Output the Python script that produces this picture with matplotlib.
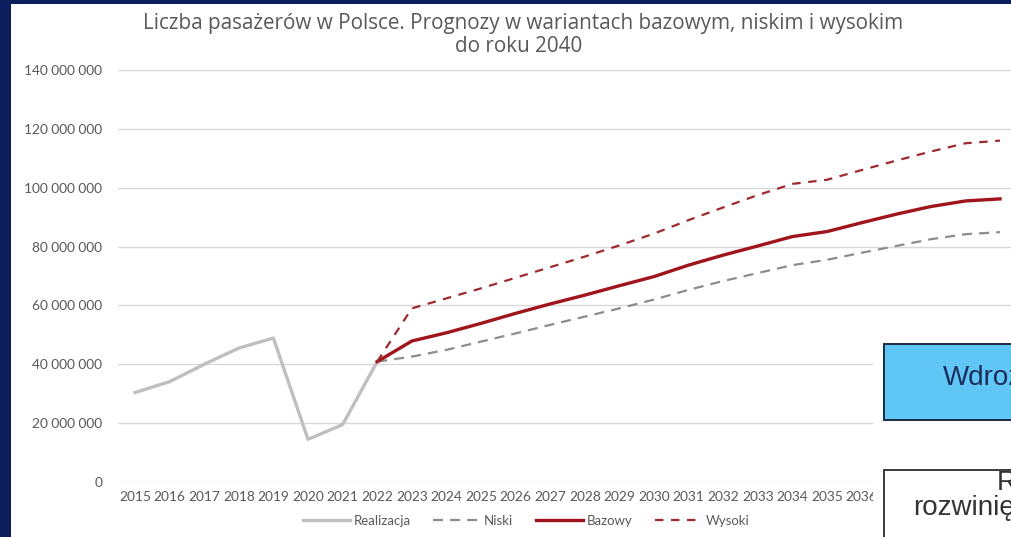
import matplotlib
matplotlib.use("Agg")
import matplotlib.pyplot as plt
from matplotlib.patches import Rectangle
from matplotlib.lines import Line2D
from matplotlib.ticker import FuncFormatter, FixedLocator

years = list(range(2015, 2041))

realizacja = [30_400_000, 34_100_000, 40_000_000, 45_500_000, 48_900_000,
              14_500_000, 19_500_000, 40_900_000]

niski = [40_900_000, 42_600_000, 44_900_000, 47_700_000, 50_500_000, 53_400_000,
         56_200_000, 59_000_000, 62_000_000, 65_300_000, 68_300_000, 71_000_000,
         73_700_000, 75_500_000, 77_900_000, 80_200_000, 82_500_000, 84_200_000,
         84_900_000]

bazowy = [40_900_000, 47_900_000, 50_700_000, 53_900_000, 57_300_000, 60_500_000,
          63_500_000, 66_700_000, 69_800_000, 73_700_000, 77_100_000, 80_200_000,
          83_400_000, 85_100_000, 88_100_000, 91_000_000, 93_600_000, 95_500_000,
          96_200_000]

wysoki = [40_900_000, 59_000_000, 62_400_000, 65_800_000, 69_400_000, 73_000_000,
          76_600_000, 80_400_000, 84_400_000, 89_000_000, 93_300_000, 97_500_000,
          101_300_000, 102_700_000, 106_000_000, 109_200_000, 112_300_000,
          115_100_000, 116_000_000]

y_ticks = [0, 20_000_000, 40_000_000, 60_000_000, 80_000_000, 100_000_000,
           120_000_000, 140_000_000]

title_lines = ["Liczba pasażerów w Polsce. Prognozy w wariantach bazowym, niskim i wysokim",
               "do roku 2040"]

W, H = 1011, 537
TXT = "#595959"
plt.rcParams["font.family"] = ["Lato", "DejaVu Sans"]

fig = plt.figure(figsize=(W / 100, H / 100), dpi=100, facecolor="white")

def fx(px):
    return px / W

def fy(py):
    return 1 - py / H

step = 34.6
ax_left = 117.7
ax = fig.add_axes([fx(ax_left), fy(482), fx(26 * step), (482 - 70) / H])
ax.set_facecolor("none")

x_real = list(range(len(realizacja)))
x_fc = list(range(len(realizacja) - 1, len(years)))

ax.plot(x_real, realizacja, color="#bfbfbf", lw=2.4, solid_joinstyle="round",
        label="Realizacja", zorder=3)
ax.plot(x_fc, niski, color="#8c8c8c", lw=1.6, dashes=(4.5, 3.2),
        label="Niski", zorder=3)
ax.plot(x_fc, bazowy, color="#a0141c", lw=2.4, label="Bazowy", zorder=4)
ax.plot(x_fc, wysoki, color="#9e2a2f", lw=1.6, dashes=(3.8, 3.4),
        label="Wysoki", zorder=4)

ax.set_xlim(-0.5, len(years) - 0.5)
ax.set_ylim(0, 140_000_000)
ax.xaxis.set_major_locator(FixedLocator(range(len(years))))
ax.set_xticklabels([str(y) for y in years])
ax.yaxis.set_major_locator(FixedLocator(y_ticks))
ax.yaxis.set_major_formatter(FuncFormatter(lambda v, p: f"{int(v):,}".replace(",", " ")))
ax.tick_params(axis="x", length=0, pad=6.5, labelsize=9.9, labelcolor=TXT)
ax.tick_params(axis="y", length=0, pad=11, labelsize=9.9, labelcolor=TXT)
ax.grid(axis="y", color="#d9d9d9", lw=1.0)
ax.set_axisbelow(True)
for s in ax.spines.values():
    s.set_visible(False)

# year labels that fall under the boxes on the right stay hidden
for lbl in ax.get_xticklabels()[22:]:
    lbl.set_visible(False)

handles = [
    Line2D([], [], color="#bfbfbf", lw=2.4),
    Line2D([], [], color="#8c8c8c", lw=1.6, dashes=(4.5, 3.2)),
    Line2D([], [], color="#a0141c", lw=2.4),
    Line2D([], [], color="#9e2a2f", lw=1.6, dashes=(3.8, 3.4)),
]
fig.legend(handles, ["Realizacja", "Niski", "Bazowy", "Wysoki"],
           loc="center", bbox_to_anchor=(fx(526), fy(521)), ncol=4,
           frameon=False, fontsize=9.5, labelcolor=TXT, handlelength=3.6,
           handletextpad=0.25, columnspacing=1.7)

fig.text(fx(523), fy(24), title_lines[0], ha="center", va="center", fontsize=14.9,
         color=TXT, family=["Open Sans", "DejaVu Sans"])
fig.text(fx(519), fy(46), title_lines[1], ha="center", va="center", fontsize=14.9,
         color=TXT, family=["Open Sans", "DejaVu Sans"])

# slide frame
fig.add_artist(Rectangle((0, 0), fx(11), 1, transform=fig.transFigure,
                         facecolor="#0b1f5c", edgecolor="none", zorder=10))
fig.add_artist(Rectangle((0, fy(4)), 1, fy(0) - fy(4), transform=fig.transFigure,
                         facecolor="#0b1f5c", edgecolor="none", zorder=10))

# shapes lying over the right part of the slide
fig.add_artist(Rectangle((fx(873), 0), fx(W - 873) + 0.01, fy(325),
                         transform=fig.transFigure, facecolor="white",
                         edgecolor="none", zorder=11))
fig.add_artist(Rectangle((fx(884), fy(420)), fx(200), fy(344) - fy(420),
                         transform=fig.transFigure, facecolor="#5fc6f6",
                         edgecolor="#1d2b45", lw=1.4, zorder=12))
fig.add_artist(Rectangle((fx(884), fy(600)), fx(200), fy(470) - fy(600),
                         transform=fig.transFigure, facecolor="white",
                         edgecolor="#3a3a3a", lw=1.4, zorder=12))
fig.text(fx(943), fy(378), "Wdrożenie", ha="left", va="center", fontsize=20,
         color="#1a2d5a", family=["Liberation Sans", "DejaVu Sans"], zorder=13)
fig.text(fx(997), fy(483), "Rozwój", ha="left", va="center", fontsize=20,
         color="#333333", family=["Liberation Sans", "DejaVu Sans"], zorder=13)
fig.text(fx(913), fy(508), "rozwinięcie", ha="left", va="center", fontsize=20,
         color="#333333", family=["Liberation Sans", "DejaVu Sans"], zorder=13)

fig.savefig("out.png", dpi=100, facecolor="white")
